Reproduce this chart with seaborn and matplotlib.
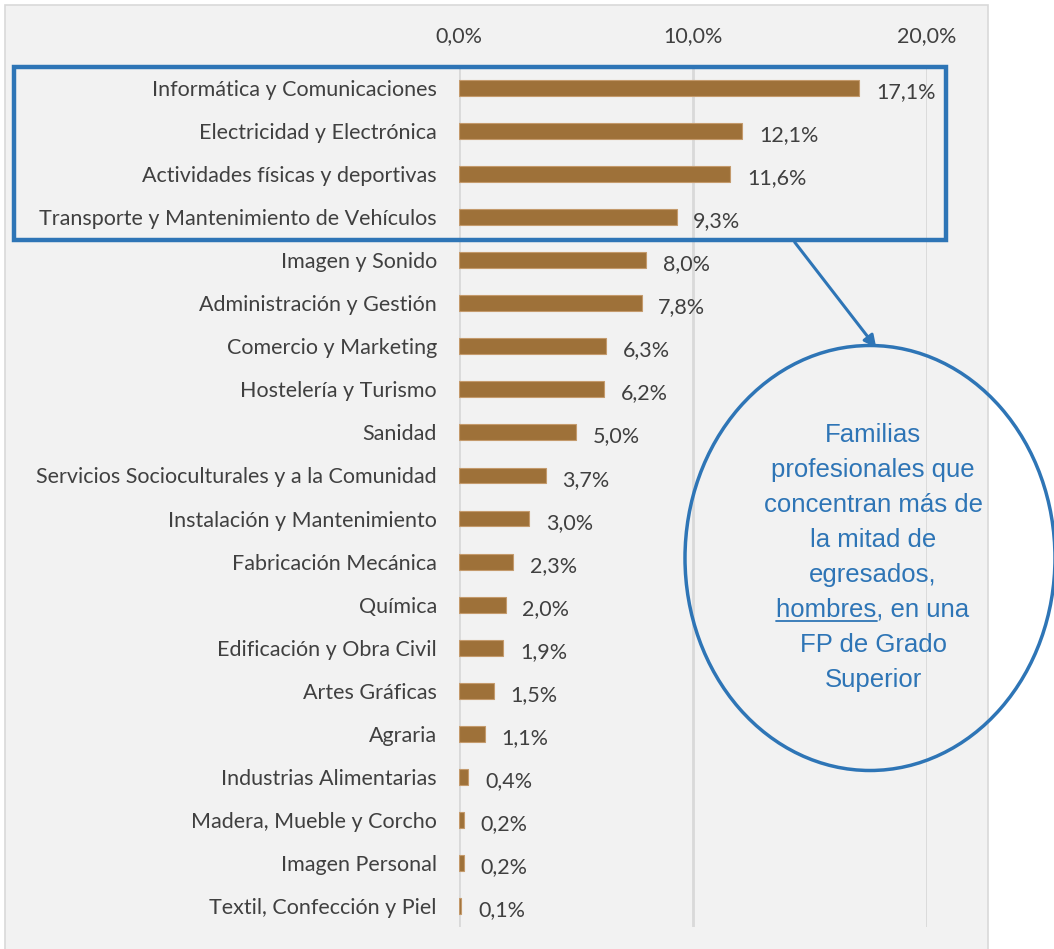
import numpy as np
import pandas as pd
import seaborn as sns
import matplotlib.pyplot as plt
from matplotlib.patches import Rectangle, Ellipse, FancyArrowPatch
from matplotlib.ticker import FuncFormatter

familias = [
    "Informática y Comunicaciones",
    "Electricidad y Electrónica",
    "Actividades físicas y deportivas",
    "Transporte y Mantenimiento de Vehículos",
    "Imagen y Sonido",
    "Administración y Gestión",
    "Comercio y Marketing",
    "Hostelería y Turismo",
    "Sanidad",
    "Servicios Socioculturales y a la Comunidad",
    "Instalación y Mantenimiento",
    "Fabricación Mecánica",
    "Química",
    "Edificación y Obra Civil",
    "Artes Gráficas",
    "Agraria",
    "Industrias Alimentarias",
    "Madera, Mueble y Corcho",
    "Imagen Personal",
    "Textil, Confección y Piel",
]
porcentaje = [17.1, 12.1, 11.6, 9.3, 8.0, 7.8, 6.3, 6.2, 5.0, 3.7,
              3.0, 2.3, 2.0, 1.9, 1.5, 1.1, 0.4, 0.2, 0.2, 0.1]
x_ticks = [0, 10, 20]
nota = "Familias\nprofesionales que\nconcentran más de\nla mitad de\negresados,\nhombres, en una\nFP de Grado\nSuperior"

df = pd.DataFrame({"familia": familias, "pct": porcentaje})

sns.set_style("white")
plt.rcParams["font.family"] = ["Lato", "DejaVu Sans"]

BAR = "#9e7139"
GRAY_TXT = "#404040"
BLUE = "#2e75b6"
FS = 15.5

fig = plt.figure(figsize=(10.54, 9.49), dpi=100)
fig.patch.set_facecolor("white")
# gray chart area
fig.add_artist(Rectangle((0.005, -0.01), 0.932, 1.005, transform=fig.transFigure,
                         facecolor="#f2f2f2", edgecolor="#d9d9d9", lw=1.2, zorder=0))

ax = fig.add_axes([0.4355, 0.0227, 0.444, 0.9072])
ax.set_facecolor("none")
sns.barplot(data=df, x="pct", y="familia", color=BAR, saturation=1, width=0.37,
            edgecolor="#c49a6c", linewidth=0.8, ax=ax, zorder=3)

ax.set_xlim(0, 20)
ax.set_xticks(x_ticks)
ax.xaxis.tick_top()
ax.xaxis.set_major_formatter(FuncFormatter(lambda v, p: f"{v:.1f}%".replace(".", ",")))
ax.tick_params(axis="x", length=0, pad=15, labelsize=FS, labelcolor=GRAY_TXT)
ax.tick_params(axis="y", length=0, pad=16, labelsize=FS, labelcolor=GRAY_TXT)
ax.grid(axis="x", color="#d9d9d9", lw=2, zorder=0)
ax.set_xlabel("")
ax.set_ylabel("")
for s in ax.spines.values():
    s.set_visible(False)

for p, v in zip(ax.patches, porcentaje):
    ax.annotate(f"{v:.1f}%".replace(".", ","), (p.get_width(), p.get_y() + p.get_height() / 2),
                xytext=(12, -3), textcoords="offset points", va="center", ha="left",
                fontsize=FS, color=GRAY_TXT)

# highlight box and note
fig.add_artist(Rectangle((14 / 1054, 1 - 240 / 949), 932 / 1054, 173 / 949,
                         transform=fig.transFigure, fill=False, edgecolor=BLUE, lw=3.2, zorder=5))
fig.add_artist(Ellipse((870 / 1054, 1 - 558 / 949), 370 / 1054, 425 / 949,
                       transform=fig.transFigure, fill=False, edgecolor=BLUE, lw=2.5, zorder=5))
fig.add_artist(FancyArrowPatch((793 / 1054, 1 - 240 / 949), (878 / 1054, 1 - 350 / 949),
                               transform=fig.transFigure, arrowstyle="-|>", mutation_scale=18,
                               color=BLUE, lw=2.2, zorder=5))

lines = nota.split("\n")
cx = 873 / 1054
y0 = 435
NFS = 18.5
for i, ln in enumerate(lines):
    yy = 1 - (y0 + i * 35) / 949
    t = fig.text(cx, yy, ln, ha="center", va="center", fontsize=NFS, color=BLUE,
                 family=["Liberation Sans", "DejaVu Sans"], zorder=6)
    if ln.startswith("hombres"):
        fig.canvas.draw()
        r = fig.canvas.get_renderer()
        bb = t.get_window_extent(r)
        w = fig.text(0, 0, "hombres", fontsize=NFS, family=["Liberation Sans", "DejaVu Sans"])
        ww = w.get_window_extent(r).width
        w.remove()
        uy = bb.y0 + 1
        fig.add_artist(plt.Line2D([bb.x0 / 1054, (bb.x0 + ww) / 1054], [uy / 949, uy / 949],
                                  transform=fig.transFigure, color=BLUE, lw=1.3, zorder=6))

fig.savefig("out.png", dpi=100)
